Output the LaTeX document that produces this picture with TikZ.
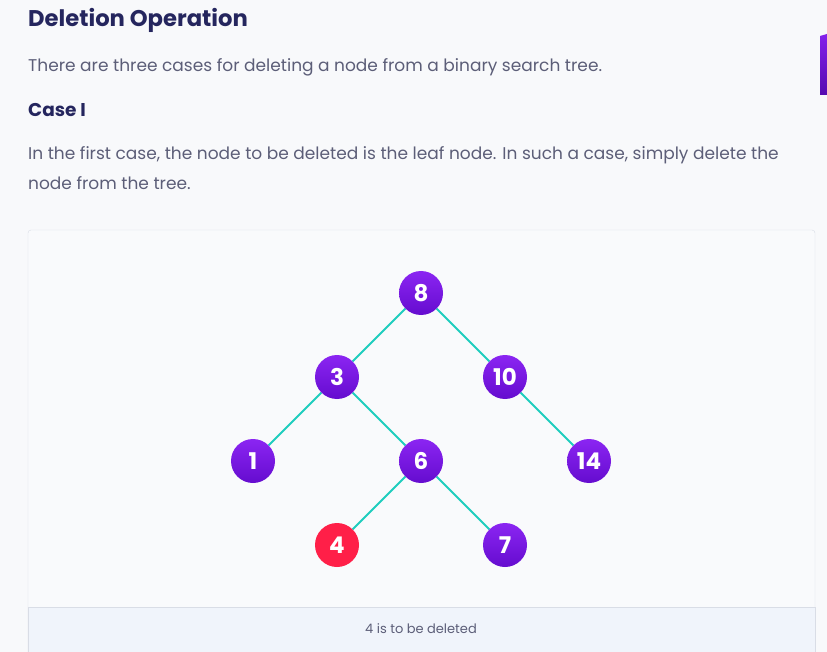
\documentclass[tikz,border=0pt]{standalone}
\usepackage{fontspec}
\setmainfont{Poppins}
\usetikzlibrary{positioning}
\definecolor{pageBg}{HTML}{F8F9FB}
\definecolor{headCol}{HTML}{25265E}
\definecolor{bodyCol}{HTML}{5C5E78}
\definecolor{panelBg}{HTML}{F9FAFC}
\definecolor{panelLine}{HTML}{D9DDE6}
\definecolor{capBg}{HTML}{F0F4FB}
\definecolor{nodeTop}{HTML}{8B25F2}
\definecolor{nodeBot}{HTML}{650CCF}
\definecolor{delCol}{HTML}{FF1F48}
\definecolor{edgeCol}{HTML}{1FCDBE}

\begin{document}
\begin{tikzpicture}[
  x=1pt, y=-1pt,
  tnode/.style={circle, minimum size=44pt, inner sep=0pt, top color=nodeTop, bottom color=nodeBot, text=white, font=\fontsize{23}{23}\selectfont\bfseries},
  delnode/.style={tnode, top color=delCol, bottom color=delCol},
  edge/.style={edgeCol, line width=1.9pt},
  heading/.style={anchor=base west, text=headCol, font=\fontsize{22.7}{22.7}\selectfont\bfseries, inner sep=0pt},
  body/.style={anchor=base west, text=bodyCol, font=\fontsize{17}{17}\selectfont, inner sep=0pt}
]
\useasboundingbox (0,0) rectangle (827,652);
\fill[pageBg] (0,0) rectangle (827,652);

% Text above the tree
\node[heading] (title) at (28,27) {Deletion Operation};
\node[body] (intro) at (28,72) {There are three cases for deleting a node from a binary search tree.};
\node[heading, font=\fontsize{18.5}{18.5}\selectfont\bfseries] (case) at (28,117) {Case I};
\node[body] (line1) at (28,160) {In the first case, the node to be deleted is the leaf node. In such a case, simply delete the};
\node[body] (line2) at (28,190) {node from the tree.};

% Side tab
\shade[top color=nodeTop!80!nodeBot, bottom color=nodeBot!85!black] (820,36) -- (827,34) -- (827,95) -- (820,95) -- cycle;

% Panel
\filldraw[fill=panelBg, draw=panelLine, rounded corners=3pt] (28,230) rectangle (815,660);
\filldraw[fill=capBg, draw=panelLine] (28,607) -- (815,607) -- (815,660) -- (28,660) -- cycle;
\node[text=bodyCol, font=\fontsize{13}{13}\selectfont] (caption) at (421,629) {4 is to be deleted};

% Tree
\node[tnode] (n8) at (421,293) {8};
\node[tnode] (n3) at (337,377) {3};
\node[tnode] (n10) at (505,377) {10};
\node[tnode] (n1) at (253,461) {1};
\node[tnode] (n6) at (421,461) {6};
\node[tnode] (n14) at (589,461) {14};
\node[delnode] (n4) at (337,545) {4};
\node[tnode] (n7) at (505,545) {7};

\draw[edge] (n8) -- (n3);
\draw[edge] (n8) -- (n10);
\draw[edge] (n3) -- (n1);
\draw[edge] (n3) -- (n6);
\draw[edge] (n10) -- (n14);
\draw[edge] (n6) -- (n4);
\draw[edge] (n6) -- (n7);
\end{tikzpicture}
\end{document}
